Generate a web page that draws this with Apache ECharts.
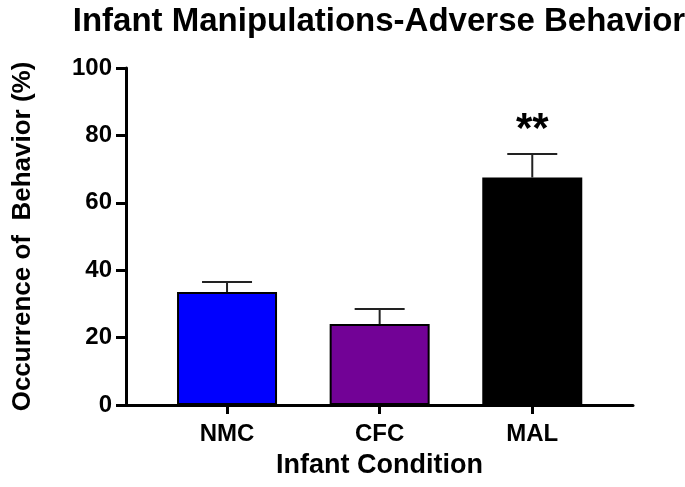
<!DOCTYPE html>
<html>
<head>
<meta charset="utf-8">
<script src="https://cdn.jsdelivr.net/npm/echarts@6/dist/echarts.min.js"></script>
<style>html,body{margin:0;padding:0;background:#fff;}#c{width:685px;height:487px;}</style>
</head>
<body>
<div id="c"></div>
<script>
const categories = ['NMC', 'CFC', 'MAL'];
const means = [33.5, 24, 67.5];
const errors = [3, 4.5, 7];
const barColors = ['#0000ff', '#720296', '#000000'];
const significance = ['', '', '**'];
const yTicks = [0, 20, 40, 60, 80, 100];
const positions = [1, 2, 3];

const FONT = "'Liberation Sans', Arial, sans-serif";
const chart = echarts.init(document.getElementById('c'), null, {renderer: 'canvas'});

const barData = categories.map((c, i) => ({value: [positions[i], means[i]], itemStyle: {color: barColors[i]}}));
const errData = categories.map((c, i) => [positions[i], means[i], errors[i], i]);

const option = {
  animation: false,
  backgroundColor: '#ffffff',
  title: {
    text: 'Infant Manipulations-Adverse Behavior',
    left: 374, textAlign: 'center', top: 0,
    textStyle: {fontFamily: FONT, fontWeight: 'bold', fontSize: 33, color: '#000'}
  },
  grid: {left: 126, top: 68, bottom: 82, right: 52, containLabel: false},
  xAxis: {
    type: 'value', min: 0.338, max: 3.66,
    name: 'Infant Condition', nameLocation: 'middle', nameGap: 47,
    nameTextStyle: {fontFamily: FONT, fontWeight: 'bold', fontSize: 27, color: '#000'},
    axisLine: {show: true, onZero: false, lineStyle: {color: '#000', width: 3}},
    axisTick: {show: true, customValues: positions, length: 9, lineStyle: {color: '#000', width: 3}},
    axisLabel: {customValues: positions, margin: 17, fontFamily: FONT, fontWeight: 'bold', fontSize: 24, color: '#000',
      formatter: v => categories[positions.indexOf(Math.round(v))] || ''},
    splitLine: {show: false}
  },
  yAxis: {
    type: 'value', min: 0, max: 100, interval: 20,
    name: 'Occurrence of  Behavior (%)', nameLocation: 'middle', nameGap: 90,
    nameTextStyle: {fontFamily: FONT, fontWeight: 'bold', fontSize: 26, color: '#000'},
    axisLine: {show: true, lineStyle: {color: '#000', width: 3}},
    axisTick: {show: true, length: 10, lineStyle: {color: '#000', width: 3}},
    axisLabel: {margin: 14, fontFamily: FONT, fontWeight: 'bold', fontSize: 24, color: '#000',
      formatter: v => yTicks.includes(v) ? String(v) : ''},
    splitLine: {show: false}
  },
  series: [
    {
      type: 'bar', data: barData, barWidth: 100,
      itemStyle: {borderColor: '#000', borderWidth: 2},
      z: 2
    },
    {
      type: 'custom', data: errData, z: 3,
      renderItem: function (params, api) {
        const x = api.value(0), m = api.value(1), e = api.value(2), idx = api.value(3);
        const top = api.coord([x, m + e]);
        const base = api.coord([x, m]);
        const half = 25;
        const children = [
          {type: 'line', shape: {x1: top[0], y1: top[1], x2: base[0], y2: base[1]}, style: {stroke: '#222', lineWidth: 2}},
          {type: 'line', shape: {x1: top[0] - half, y1: top[1], x2: top[0] + half, y2: top[1]}, style: {stroke: '#222', lineWidth: 2}}
        ];
        const sig = significance[idx];
        if (sig) {
          children.push({type: 'text', style: {text: sig, x: top[0], y: top[1] - 24, align: 'center', verticalAlign: 'middle',
            font: "bold 42px 'Liberation Sans', Arial, sans-serif", fill: '#000'}});
        }
        return {type: 'group', children: children};
      }
    }
  ]
};
chart.setOption(option);
</script>
</body>
</html>
